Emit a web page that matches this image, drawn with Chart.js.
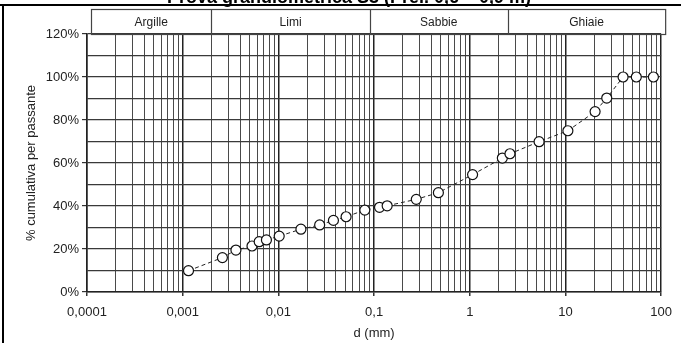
<!DOCTYPE html>
<html><head><meta charset="utf-8">
<script src="https://cdn.jsdelivr.net/npm/chart.js@4/dist/chart.umd.min.js"></script>
<style>html,body{margin:0;padding:0;background:#fff;}#wrap{width:681px;height:343px;position:relative}</style>
</head><body><div id="wrap"><canvas id="c" width="681" height="343"></canvas></div>
<script>
// ---- data ----
const diameters = [0.00115, 0.0026, 0.0036, 0.0053, 0.0063, 0.0075, 0.0102, 0.0172, 0.027, 0.0376, 0.051, 0.080, 0.114, 0.137, 0.276, 0.47, 1.07, 2.19, 2.63, 5.3, 10.6, 20.4, 27, 40, 55, 83];
const passing   = [9.9, 16.0, 19.5, 21.4, 23.4, 24.2, 26.0, 29.2, 31.2, 33.3, 35.0, 38.1, 39.4, 40.1, 43.1, 46.2, 54.6, 62.3, 64.3, 69.9, 75.0, 83.9, 90.2, 100, 100, 100];
const decadeValues = [0.0001, 0.001, 0.01, 0.1, 1, 10, 100];
const xTickLabels  = ['0,0001', '0,001', '0,01', '0,1', '1', '10', '100'];
const yGridValues  = [0, 10, 20, 30, 40, 50, 60, 70, 80, 90, 100, 110, 120];
const soilLabels   = ['Argille', 'Limi', 'Sabbie', 'Ghiaie'];
const soilBounds   = [0.0001, 0.002, 0.09, 2.5, 100];
const chartTitle   = 'Prova granulometrica S3 (Prel. 0,6 – 0,9 m)';
const xTitle = 'd (mm)';
const yTitle = '% cumulativa per passante';

const FONT = 'Liberation Sans';
const isDecade = v => decadeValues.some(d => Math.abs(d - v) / d < 1e-6);

const decor = {
  id: 'decor',
  afterDraw(chart) {
    const { ctx, chartArea: a, scales: { x } } = chart;
    ctx.save();
    const top = 9, bot = a.top;
    const xl = a.left + 4, xr = a.right + 4;
    ctx.strokeStyle = '#444'; ctx.lineWidth = 1.2;
    ctx.strokeRect(xl + 0.5, top + 0.5, xr - xl, bot - top);
    const px = soilBounds.map((b, i) => i === 0 ? xl : (i === soilBounds.length - 1 ? xr : x.getPixelForValue(b)));
    ctx.beginPath();
    for (let i = 1; i < px.length - 1; i++) {
      const p = Math.round(px[i]) + 0.5;
      ctx.moveTo(p, top); ctx.lineTo(p, bot);
    }
    ctx.stroke();
    ctx.fillStyle = '#222';
    ctx.font = '12px "' + FONT + '"';
    ctx.textAlign = 'center'; ctx.textBaseline = 'middle';
    soilLabels.forEach((l, i) => ctx.fillText(l, (px[i] + px[i + 1]) / 2, (top + bot) / 2 + 1));
    // outer frame
    ctx.strokeStyle = '#000'; ctx.lineWidth = 2;
    ctx.beginPath();
    ctx.moveTo(0, 5); ctx.lineTo(681, 5);
    ctx.moveTo(3, 5); ctx.lineTo(3, 343);
    ctx.stroke();
    // title (cut off at top)
    ctx.fillStyle = '#000';
    ctx.font = 'bold 18px "' + FONT + '"';
    ctx.textAlign = 'center'; ctx.textBaseline = 'alphabetic';
    ctx.fillText(chartTitle, 349, 3);
    ctx.restore();
  }
};

new Chart(document.getElementById('c'), {
  type: 'line',
  data: {
    datasets: [{
      data: diameters.map((d, i) => ({ x: d, y: passing[i] })),
      borderColor: '#222', borderWidth: 1, borderDash: [4, 3],
      pointRadius: 5, pointBackgroundColor: '#fff', pointBorderColor: '#111', pointBorderWidth: 1.2,
      tension: 0, fill: false
    }]
  },
  options: {
    responsive: false, animation: false, devicePixelRatio: 1,
    layout: { padding: { left: 0, right: 15, top: 34, bottom: 0 } },
    plugins: { legend: { display: false }, tooltip: { enabled: false }, title: { display: false } },
    scales: {
      x: {
        type: 'logarithmic', min: 0.0001, max: 100,
        afterBuildTicks(s) {
          const t = [];
          for (let e = -4; e <= 2; e++) {
            for (let m = 1; m <= 9; m++) {
              const v = +(m * Math.pow(10, e)).toPrecision(3);
              if (v > 100.0001) break;
              t.push({ value: v });
            }
          }
          s.ticks = t;
        },
        afterFit(s) { s.height = 51; },
        ticks: {
          autoSkip: false, maxRotation: 0, minRotation: 0, padding: 9, color: '#222',
          font: { size: 13, family: FONT },
          callback(v) {
            const i = decadeValues.findIndex(d => Math.abs(d - v) / d < 1e-6);
            return i >= 0 ? xTickLabels[i] : '';
          }
        },
        grid: {
          color: c => (c.tick && isDecade(c.tick.value)) ? '#222' : '#4a4a4a',
          lineWidth: c => (c.tick && isDecade(c.tick.value)) ? 1.5 : 1,
          tickLength: 4,
          tickColor: c => (c.tick && isDecade(c.tick.value)) ? '#333' : 'rgba(0,0,0,0)'
        },
        border: { color: '#222', width: 1.5 },
        title: { display: true, text: xTitle, color: '#222', font: { size: 13, family: FONT }, padding: { top: 0, bottom: 2 } }
      },
      y: {
        min: 0, max: 120,
        afterBuildTicks(s) { s.ticks = yGridValues.map(v => ({ value: v })); },
        afterFit(s) { s.width = 87; },
        ticks: {
          padding: 3, color: '#222', font: { size: 13, family: FONT },
          callback(v) { return v % 20 === 0 ? v + '%' : ''; }
        },
        grid: {
          color: '#3a3a3a', lineWidth: 1.2, tickLength: 5,
          tickColor: c => (c.tick && c.tick.value % 20 === 0) ? '#333' : 'rgba(0,0,0,0)'
        },
        border: { color: '#222', width: 1.5 },
        title: { display: true, text: yTitle, color: '#222', font: { size: 13, family: FONT }, padding: { top: 24, bottom: 0 } }
      }
    }
  },
  plugins: [decor]
});
</script>
</body></html>
